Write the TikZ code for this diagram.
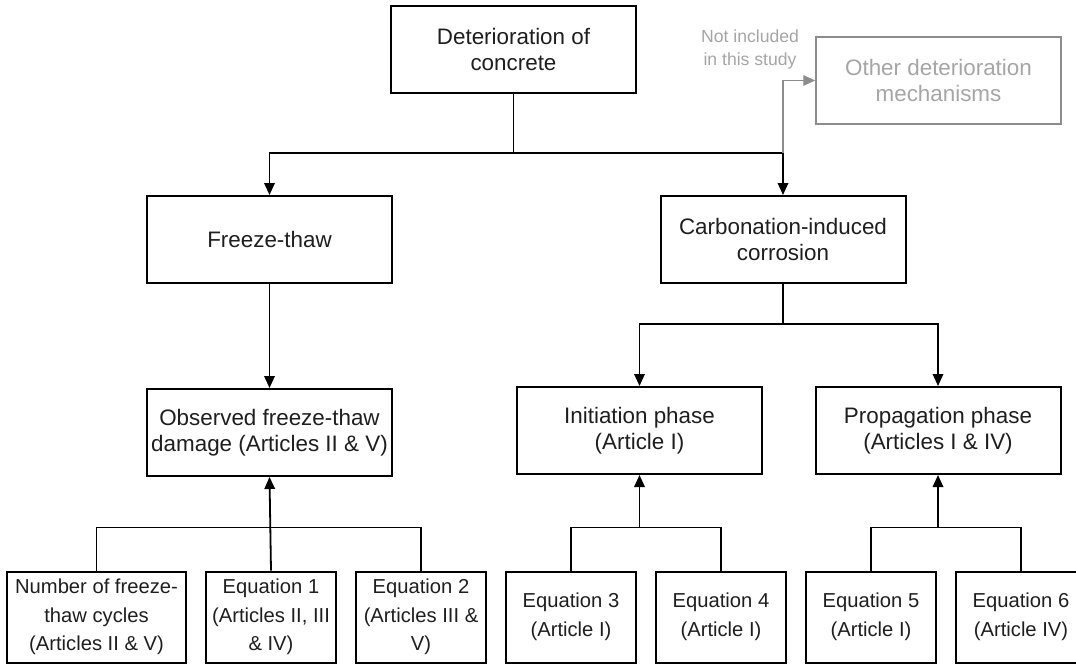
\documentclass[tikz,border=0pt]{standalone}
\usepackage{fontspec}
\setmainfont{Liberation Sans}
\usetikzlibrary{positioning, arrows.meta, calc}
\definecolor{notegray}{RGB}{165,165,165}
\definecolor{linegray}{RGB}{140,140,140}
\definecolor{inkblack}{RGB}{30,30,30}

\begin{document}
\begin{tikzpicture}[
        x=1pt, y=1pt,
        every node/.style={font=\fontsize{22.4}{26}\selectfont, text=inkblack},
        box/.style={draw, line width=2pt, align=center, inner sep=2pt, minimum width=245pt, minimum height=87pt},
        leaf/.style={box, minimum width=130pt, minimum height=91pt, font=\fontsize{20.2}{28.5}\selectfont},
        excluded/.style={box, draw=linegray, line width=1.5pt, text=notegray},
        link/.style={line width=1.8pt},
        arr/.style={link, -{Triangle[length=12pt, width=10.5pt]}}
    ]
        \useasboundingbox (0,0) rectangle (1076,-664);

        % Nodes
        \node[box] (det) at (513.5,-49) {Deterioration of\\concrete};
        \node[excluded] (other) at (938.5,-80.5) {Other deterioration\\mechanisms};
        \node[text=notegray, align=center, font=\fontsize{17.6}{23}\selectfont] (note) at (750,-49.5) {Not included\\in this study};
        \node[box] (freeze) at (269.5,-239.5) {Freeze-thaw};
        \node[box] (carb) at (783,-239.5) {Carbonation-induced\\corrosion};
        \node[box, below=104pt of freeze] (observed) {Observed freeze-thaw\\damage (Articles II \& V)};
        \node[box] (init) at (639.5,-430.5) {Initiation phase\\(Article I)};
        \node[box] (prop) at (938,-430.5) {Propagation phase\\(Articles I \& IV)};

        \node[leaf, minimum width=179pt] (cycles) at (96.5,-617) {Number of freeze-\\thaw cycles\\(Articles II \& V)};
        \node[leaf, right=18pt of cycles] (eq1) {Equation 1\\(Articles II, III\\\& IV)};
        \node[leaf, right=18pt of eq1] (eq2) {Equation 2\\(Articles III \&\\V)};
        \node[leaf, right=18pt of eq2] (eq3) {Equation 3\\(Article I)};
        \node[leaf, right=18pt of eq3] (eq4) {Equation 4\\(Article I)};
        \node[leaf, right=18pt of eq4] (eq5) {Equation 5\\(Article I)};
        \node[leaf, right=18pt of eq5] (eq6) {Equation 6\\(Article IV)};

        % Arrows
        \coordinate (split) at (513.5,-153);
        \draw[link] (det.south) -- (split);
        \draw[arr] (split) -| (freeze.north);
        \draw[arr] (split) -| (carb.north);
        \draw[arr, color=linegray, line width=1.5pt] (split -| carb.north) |- (other.west);

        \draw[arr] (freeze) -- (observed);
        \draw[link] (carb.south) -- ++(0,-40) coordinate (fork);
        \draw[arr] (fork) -| (init.north);
        \draw[arr] (fork) -| (prop.north);

        % Inputs below each box
        \draw[link] (cycles.north) -- ++(0,43) -| (eq2.north);
        \draw[arr] (eq1.north) -- (observed.south);
        \draw[link] (eq3.north) -- ++(0,43) coordinate (m3) -| (eq4.north);
        \draw[arr] (m3 -| init.south) -- (init.south);
        \draw[link] (eq5.north) -- ++(0,43) coordinate (m5) -| (eq6.north);
        \draw[arr] (m5 -| prop.south) -- (prop.south);
    \end{tikzpicture}
\end{document}
